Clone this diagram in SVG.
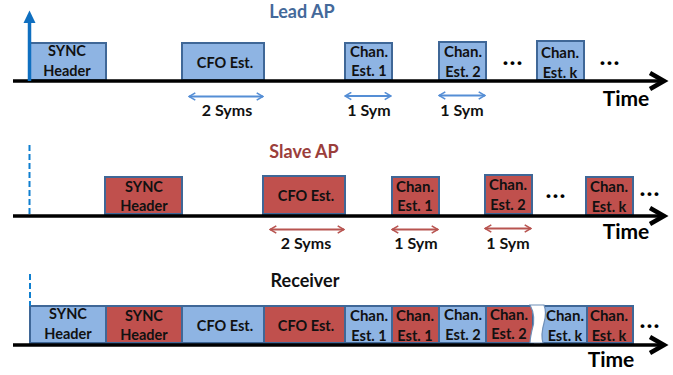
<svg xmlns="http://www.w3.org/2000/svg" width="673" height="375" viewBox="0 0 673 375">
<style>
.b{fill:#8eb4e3;stroke:#3f6797;stroke-width:2}
.r{fill:#c0504d;stroke:#3f6797;stroke-width:2}
text{font-family:Lato,Carlito,"Open Sans",sans-serif;font-weight:700;font-size:14.500px;fill:#111;text-anchor:middle}
.ch{font-size:15px}
.m{font-size:16px}
.ti{font-size:18px}
.tm{font-size:21px;fill:#000}
.dots{font-size:25px;fill:#000;letter-spacing:1px}
.ax{stroke:#000;stroke-width:3.500;fill:none}
.head{stroke:#000;stroke-width:4.500;fill:none}
.db{stroke:#558ed5;stroke-width:1.800;fill:none;marker-start:url(#ob);marker-end:url(#ob)}
.dr{stroke:#b85450;stroke-width:1.800;fill:none;marker-start:url(#or);marker-end:url(#or)}
.dash{stroke:#0f7fd0;stroke-width:2;stroke-dasharray:6 3;fill:none}
</style>
<defs>
<marker id="ob" viewBox="0 0 10 10" refX="9" refY="5" markerWidth="9" markerHeight="9" orient="auto-start-reverse" markerUnits="userSpaceOnUse"><path d="M2 1L9 5L2 9" fill="none" stroke="#558ed5" stroke-width="1.800"/></marker>
<marker id="or" viewBox="0 0 10 10" refX="9" refY="5" markerWidth="9" markerHeight="9" orient="auto-start-reverse" markerUnits="userSpaceOnUse"><path d="M2 1L9 5L2 9" fill="none" stroke="#b85450" stroke-width="1.800"/></marker>
</defs>

<g id="lead-title"><text class="ti" x="302" y="18" style="fill:#44699a">Lead AP</text></g>
<g id="lead-sync"><rect class="b" x="30" y="43" width="76" height="37"/><text x="67" y="56">SYNC</text><text x="67" y="76">Header</text></g>
<g id="lead-cfo"><rect class="b" x="182" y="43" width="82" height="37"/><text x="225" y="68">CFO Est.</text></g>
<g id="lead-ch1"><rect class="b" x="345" y="43" width="47" height="37"/><text class="ch" x="369" y="57">Chan.</text><text x="369" y="76">Est. 1</text></g>
<g id="lead-ch2"><rect class="b" x="439" y="42" width="47" height="38"/><text class="ch" x="463" y="57">Chan.</text><text x="463" y="77">Est. 2</text></g>
<g id="lead-chk"><rect class="b" x="537" y="41" width="47" height="39"/><text class="ch" x="560" y="58">Chan.</text><text x="560" y="78">Est. k</text></g>
<g id="lead-text"><text class="dots" x="513" y="65">...</text><text class="dots" x="610" y="65">...</text><text class="tm" x="626" y="106">Time</text>
<text class="m" x="227" y="116">2 Syms</text><text class="m" x="369" y="116">1 Sym</text><text class="m" x="462" y="116">1 Sym</text></g>

<g id="slave-title"><text class="ti" x="304" y="158" style="fill:#9b3e3b">Slave AP</text></g>
<g id="slave-sync"><rect class="r" x="105" y="177" width="77" height="37"/><text x="144" y="192">SYNC</text><text x="144" y="211">Header</text></g>
<g id="slave-cfo"><rect class="r" x="263" y="176" width="82" height="38"/><text x="306" y="201">CFO Est.</text></g>
<g id="slave-ch1"><rect class="r" x="392" y="177" width="47" height="38"/><text class="ch" x="415" y="192">Chan.</text><text x="415" y="211">Est. 1</text></g>
<g id="slave-ch2"><rect class="r" x="485" y="175" width="47" height="39"/><text class="ch" x="508" y="190">Chan.</text><text x="508" y="210">Est. 2</text></g>
<g id="slave-chk"><rect class="r" x="586" y="177" width="47" height="38"/><text class="ch" x="609" y="192">Chan.</text><text x="609" y="212">Est. k</text></g>
<g id="slave-text"><text class="dots" x="556" y="198">...</text><text class="dots" x="650" y="196">...</text><text class="tm" x="626" y="239">Time</text>
<text class="m" x="306" y="249">2 Syms</text><text class="m" x="416" y="249">1 Sym</text><text class="m" x="508" y="249">1 Sym</text></g>

<g id="receiver-title"><text class="ti" style="fill:#111" x="305" y="287">Receiver</text></g>
<g id="rx-sync-a"><rect class="b" x="30" y="306" width="76" height="37"/><text x="68" y="319">SYNC</text><text x="68" y="339">Header</text></g>
<g id="rx-sync-b"><rect class="r" x="106" y="306" width="76" height="37"/><text x="144" y="321">SYNC</text><text x="144" y="340">Header</text></g>
<g id="rx-cfo-a"><rect class="b" x="182" y="306" width="82" height="37"/><text x="225" y="331">CFO Est.</text></g>
<g id="rx-cfo-b"><rect class="r" x="264" y="306" width="81" height="37"/><text x="306" y="331">CFO Est.</text></g>
<g id="rx-ch1-a"><rect class="b" x="345" y="306" width="47" height="37"/><text class="ch" x="369" y="321">Chan.</text><text x="369" y="341">Est. 1</text></g>
<g id="rx-ch1-b"><rect class="r" x="392" y="306" width="47" height="37"/><text class="ch" x="415" y="321">Chan.</text><text x="415" y="341">Est. 1</text></g>
<g id="rx-ch2-a"><rect class="b" x="439" y="306" width="47" height="37"/><text class="ch" x="463" y="320">Chan.</text><text x="463" y="340">Est. 2</text></g>
<g id="rx-ch2-b"><rect class="r" x="486" y="306" width="47" height="37"/><text class="ch" x="509" y="320">Chan.</text><text x="509" y="339">Est. 2</text></g>
<g id="rx-chk-a"><rect class="b" x="541" y="306" width="46" height="37"/><text class="ch" x="565" y="321">Chan.</text><text x="565" y="341">Est. k</text></g>
<g id="rx-chk-b"><rect class="r" x="587" y="306" width="46" height="37"/><text class="ch" x="609" y="321">Chan.</text><text x="609" y="341">Est. k</text></g>
<g id="rx-gap"><path d="M530 305C534 312 535 322 532 330C531 335 530 339 530 343L543 343C541 336 542 330 544 323C546 316 546 310 544 305Z" fill="#fff" stroke="#6f8fb8" stroke-width="1.200"/></g>
<g id="rx-text"><text class="dots" x="650" y="328">...</text><text class="tm" x="611" y="367">Time</text></g>

<g id="connectors">
<path class="ax" d="M13 81H663"/><path class="head" d="M650 73L664 81L650 89"/>
<path class="ax" d="M13 216H663"/><path class="head" d="M650 208L664 216L650 224"/>
<path class="ax" d="M13 345H663"/><path class="head" d="M650 337L664 345L650 353"/>
<path d="M29.500 81V20" stroke="#0f6fc0" stroke-width="3.500" fill="none"/><path d="M23.500 23L29.500 10.500L35.500 23Z" fill="#0f6fc0"/>
<path class="dash" d="M29.500 145V215"/>
<path class="dash" d="M30 274V306"/>
<path class="db" d="M189 96.500H263"/>
<path class="db" d="M345 96H391"/>
<path class="db" d="M439 95.500H485"/>
<path class="dr" d="M270 229.500H344"/>
<path class="dr" d="M392 229.500H438"/>
<path class="dr" d="M485 228.500H531"/>
</g>
</svg>
